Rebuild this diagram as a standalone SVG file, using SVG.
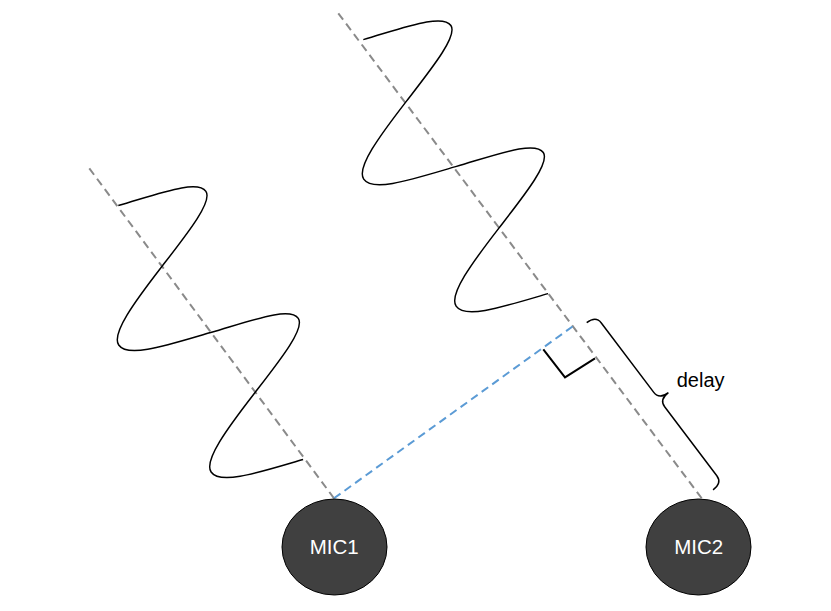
<svg xmlns="http://www.w3.org/2000/svg" width="831" height="611" viewBox="0 0 831 611">
  <defs>
    <style>
      .ray { fill: none; stroke: #8a8a8a; stroke-width: 2; stroke-dasharray: 8 5; }
      .path-diff { fill: none; stroke: #5B9BD5; stroke-width: 2; stroke-dasharray: 8 5; }
      .wave { fill: none; stroke: #000; stroke-width: 1.5; stroke-linejoin: round; }
      .mark { fill: none; stroke: #000; stroke-width: 2; }
      .brace { fill: none; stroke: #000; stroke-width: 1.5; }
      .mic { fill: #404040; stroke: #000; stroke-width: 1; }
      .micLabel { font-family: "Liberation Sans", Arial, sans-serif; font-size: 20.5px; fill: #fff; text-anchor: middle; }
      .label { font-family: "Liberation Sans", Arial, sans-serif; font-size: 20px; fill: #000; }
    </style>
    <path id="sine" d="M118.3,205.5 C159.6,193.5 197.6,179.2 205.9,191.4 C212.9,201.6 187.1,233.9 161.5,267 C134.5,301.9 111.1,333.8 118.7,345 C127.8,358.4 167.3,345.2 210.7,332.5 C252,320.5 290,306.2 298.3,318.4 C305.3,328.6 279.5,360.9 253.9,394 C226.9,428.9 203.5,460.8 211.1,472 C220.2,485.4 259.7,472.2 303.1,459.5"/>
  </defs>
  <rect width="831" height="611" fill="#fff"/>

  <g id="connectors">
    <path class="ray" d="M89.3,168.3 L334,498.3"/>
    <path class="ray" d="M338.3,13.3 L701.7,498.3"/>
    <path class="path-diff" d="M334,498.3 L576,324"/>
  </g>

  <g id="wave1">
    <use href="#sine" class="wave"/>
  </g>
  <g id="wave2">
    <use href="#sine" class="wave" transform="translate(245,-165.9)"/>
  </g>

  <g id="right-angle">
    <polyline class="mark" points="543.3,349.3 565,377.3 595,358.3"/>
  </g>

  <g id="delay-brace">
    <path class="brace" transform="translate(586.7,322.7) rotate(52.9)" d="M0,0 Q0,-11.5 9,-11.5 L96,-11.5 Q105,-11.5 105,-23 Q105,-11.5 114,-11.5 L200.5,-11.5 Q209.5,-11.5 209.5,0"/>
    <text class="label" x="676.7" y="387.3">delay</text>
  </g>

  <g id="mic1">
    <ellipse class="mic" cx="334.5" cy="547" rx="52.5" ry="48"/>
    <text class="micLabel" x="334.3" y="554">MIC1</text>
  </g>
  <g id="mic2">
    <ellipse class="mic" cx="698.5" cy="547" rx="52.5" ry="48"/>
    <text class="micLabel" x="698.7" y="554">MIC2</text>
  </g>
</svg>
